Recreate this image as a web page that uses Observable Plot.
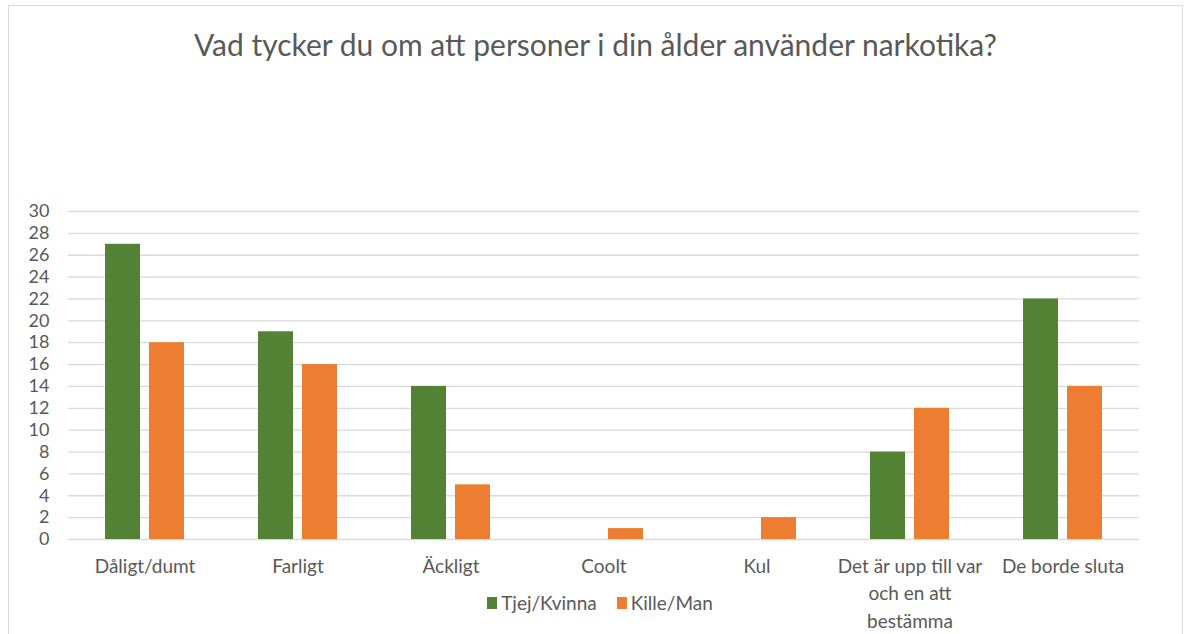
<!DOCTYPE html>
<html>
<head>
<meta charset="utf-8">
<script src="https://cdn.jsdelivr.net/npm/d3@7"></script>
<script src="https://cdn.jsdelivr.net/npm/@observablehq/plot@0.6"></script>
<style>
  body { margin: 0; background: #fff; font-family: Lato, "Open Sans", sans-serif; color: #595959; }
  #frame { position: absolute; left: 8px; top: 5px; width: 1175px; height: 660px; border: 1px solid #d9d9d9; box-sizing: border-box; }
  #title { position: absolute; left: 8px; width: 1175px; top: 26px; text-align: center; font-size: 30px; color: #595959; }
  #chart { position: absolute; left: 0; top: 150px; }
  #legend { position: absolute; left: 0; width: 1200px; top: 591px; display: flex; justify-content: center; gap: 20px; font-size: 19px; }
  #legend .item { display: flex; align-items: center; gap: 4px; }
  #legend .sw { width: 10px; height: 12px; display: inline-block; }
</style>
</head>
<body>
<div id="frame"></div>
<div id="title">Vad tycker du om att personer i din ålder använder narkotika?</div>
<div id="chart"></div>
<div id="legend"></div>
<script>
const categories = ["Dåligt/dumt", "Farligt", "Äckligt", "Coolt", "Kul", "Det är upp till var och en att bestämma", "De borde sluta"];
const categoryLabels = ["Dåligt/dumt", "Farligt", "Äckligt", "Coolt", "Kul", "Det är upp till var\noch en att\nbestämma", "De borde sluta"];
const series = ["Tjej/Kvinna", "Kille/Man"];
const tjejValues = [27, 19, 14, 0, 0, 8, 22];
const killeValues = [18, 16, 5, 1, 2, 12, 14];
const yTicks = [0, 2, 4, 6, 8, 10, 12, 14, 16, 18, 20, 22, 24, 26, 28, 30];
const colors = ["#548235", "#ED7D31"];

const data = [];
categories.forEach((c, i) => {
  data.push({category: c, series: series[0], value: tjejValues[i]});
  data.push({category: c, series: series[1], value: killeValues[i]});
});

const chart = Plot.plot({
  width: 1184,
  height: 490,
  marginLeft: 65,
  marginRight: 42,
  marginTop: 61,
  marginBottom: 101,
  style: {fontFamily: "Lato, 'Open Sans', sans-serif", fontSize: "18px", color: "#595959", background: "transparent", overflow: "visible"},
  fx: {domain: categories, padding: 0, axis: null},
  x: {domain: series, paddingInner: 0.2, paddingOuter: 0.81, axis: null},
  y: {domain: [0, 30], axis: null},
  color: {domain: series, range: colors},
  marks: [
    Plot.gridY(yTicks, {stroke: "#d9d9d9", strokeOpacity: 1, strokeWidth: 1.3}),
    Plot.axisY(yTicks, {tickSize: 0, tickPadding: 19, label: null, fontSize: 18, fill: "#595959"}),
    Plot.barY(data, {fx: "category", x: "series", y: "value", fill: "series"}),
    Plot.text(categories, {
      fx: d => d,
      text: (d, i) => categoryLabels[i],
      frameAnchor: "bottom",
      lineAnchor: "top",
      dy: 14,
      lineHeight: 1.44,
      fontSize: 19,
      fill: "#595959"
    })
  ]
});
document.getElementById("chart").appendChild(chart);

const legend = document.getElementById("legend");
series.forEach((s, i) => {
  const item = document.createElement("span");
  item.className = "item";
  const sw = document.createElement("span");
  sw.className = "sw";
  sw.style.background = colors[i];
  item.appendChild(sw);
  item.appendChild(document.createTextNode(s));
  legend.appendChild(item);
});
</script>
</body>
</html>
